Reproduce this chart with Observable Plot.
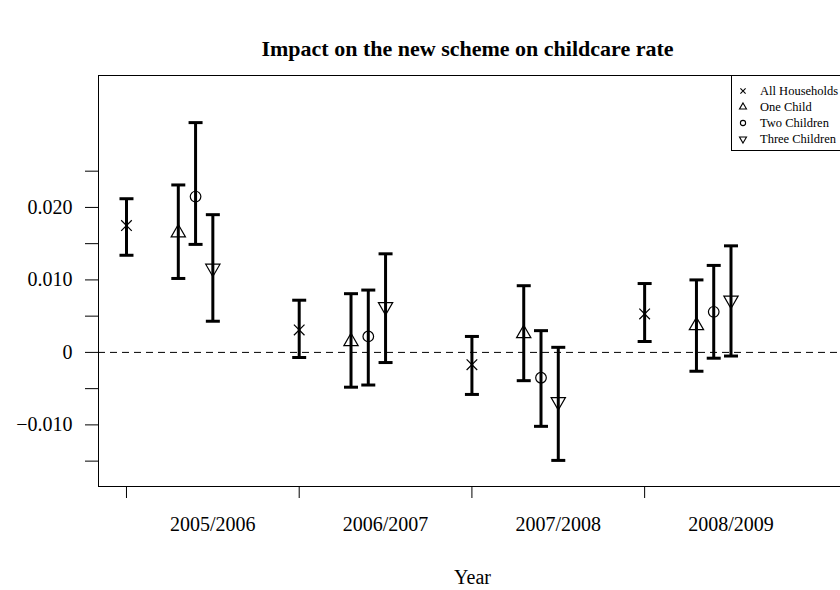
<!DOCTYPE html>
<html>
<head>
<meta charset="utf-8">
<script src="https://cdn.jsdelivr.net/npm/d3@7"></script>
<script src="https://cdn.jsdelivr.net/npm/@observablehq/plot@0.6"></script>
<style>
  body { margin: 0; background: #fff; }
  #wrap { position: relative; width: 840px; height: 590px; overflow: hidden; background: #fff;
          font-family: "Liberation Serif", "Times New Roman", serif; }
  #wrap svg { display: block; }
  #legend { position: absolute; left: 731px; top: 75px; width: 130px; height: 76px;
            border: 1px solid #000; background: #fff; box-sizing: border-box; }
  .lrow { position: absolute; left: 0; height: 16px; font-size: 12.5px; line-height: 16px; color: #000; white-space: nowrap; }
  .lrow svg { position: absolute; left: 5px; top: 2px; }
  .lrow span { position: absolute; left: 28px; top: 0; }
</style>
</head>
<body>
<div id="wrap"></div>
<script>
// ---------------- data ----------------
const years = ["2005/2006", "2006/2007", "2007/2008", "2008/2009"];
const seriesNames = ["All Households", "One Child", "Two Children", "Three Children"];

const allEst    = [0.0175, 0.0031, -0.0017, 0.0053];
const allLow    = [0.0134, -0.0007, -0.0058, 0.0015];
const allHigh   = [0.0212, 0.0072, 0.0022, 0.0095];

const oneEst    = [0.0165, 0.0015, 0.0026, 0.0037];
const oneLow    = [0.0102, -0.0048, -0.0039, -0.0026];
const oneHigh   = [0.0231, 0.0081, 0.0092, 0.0100];

const twoEst    = [0.0215, 0.0022, -0.0035, 0.0056];
const twoLow    = [0.0149, -0.0045, -0.0102, -0.0008];
const twoHigh   = [0.0317, 0.0086, 0.0030, 0.0120];

const threeEst  = [0.0116, 0.0063, -0.0068, 0.0072];
const threeLow  = [0.0043, -0.0014, -0.0149, -0.0005];
const threeHigh = [0.0190, 0.0136, 0.0007, 0.0147];

const yTicks      = [-0.015, -0.01, -0.005, 0, 0.005, 0.01, 0.015, 0.02, 0.025];
const yTickLabels = ["", "\u22120.010", "", "0", "", "0.010", "", "0.020", ""];
const xLabel = "Year";
const titleText = "Impact on the new scheme on childcare rate";

// ---------------- layout ----------------
const dodge = [0, 0.3, 0.4, 0.5];
const xDomain = [0.838, 5.134];
const yDomain = [-0.0185, 0.0382];
const seriesSets = [[allEst, allLow, allHigh], [oneEst, oneLow, oneHigh],
                    [twoEst, twoLow, twoHigh], [threeEst, threeLow, threeHigh]];
const rows = [];
seriesSets.forEach(([e, l, h], s) => years.forEach((yr, i) => rows.push({
  year: yr, series: seriesNames[s], s, x: i + 1 + dodge[s], est: e[i], lo: l[i], hi: h[i]
})));

// R-like symbols (pch 4, 2, 1, 6)
const rad = size => Math.sqrt(size / Math.PI);
const symCross = { draw(c, size) { const r = rad(size); c.moveTo(-r, -r); c.lineTo(r, r); c.moveTo(-r, r); c.lineTo(r, -r); } };
const symTriUp = { draw(c, size) { const r = rad(size); c.moveTo(0, -1.5551 * r); c.lineTo(1.3468 * r, 0.7776 * r); c.lineTo(-1.3468 * r, 0.7776 * r); c.closePath(); } };
const symCircle = { draw(c, size) { const r = rad(size); c.moveTo(r, 0); c.arc(0, 0, r, 0, 2 * Math.PI); } };
const symTriDown = { draw(c, size) { const r = rad(size); c.moveTo(0, 1.5551 * r); c.lineTo(1.3468 * r, -0.7776 * r); c.lineTo(-1.3468 * r, -0.7776 * r); c.closePath(); } };
const symCap = { draw(c, size) { const r = rad(size); c.moveTo(-r, 0); c.lineTo(r, 0); } };
const symbols = [symCross, symTriUp, symCircle, symTriDown];

const font = "Liberation Serif";
const labelTicks = years.map((_, i) => i + 1.5);
const yFmt = new Map(yTicks.map((v, i) => [v, yTickLabels[i]]));
const xFmt = new Map(labelTicks.map((v, i) => [v, years[i]]));

const chart = Plot.plot({
  width: 840,
  height: 590,
  marginLeft: 98,
  marginRight: 0,
  marginTop: 75,
  marginBottom: 104,
  style: { fontFamily: font, background: "#fff", color: "#000" },
  x: { type: "linear", domain: xDomain },
  y: { type: "linear", domain: yDomain },
  marks: [
    Plot.ruleY([0], { strokeDasharray: "7,5", strokeWidth: 1, stroke: "#000" }),
    Plot.ruleX(rows, { x: "x", y1: "lo", y2: "hi", strokeWidth: 3, stroke: "#000" }),
    Plot.dot(rows, { x: "x", y: "lo", symbol: symCap, r: 7, fill: "none", stroke: "#000", strokeWidth: 3 }),
    Plot.dot(rows, { x: "x", y: "hi", symbol: symCap, r: 7, fill: "none", stroke: "#000", strokeWidth: 3 }),
    ...seriesNames.map((name, s) => Plot.dot(rows.filter(d => d.s === s), {
      x: "x", y: "est", symbol: symbols[s], r: 5.3, fill: "none", stroke: "#000", strokeWidth: 1.2
    })),
    // box: left, top, bottom (right edge lies outside the picture)
    Plot.ruleY(yDomain, { stroke: "#000", strokeWidth: 1 }),
    Plot.ruleX([xDomain[0]], { stroke: "#000", strokeWidth: 1 }),
    Plot.axisY({ ticks: yTicks, tickSize: 13, tickPadding: 13, tickFormat: d => yFmt.get(d) ?? "",
                 label: null, fontSize: 20, fontFamily: font, stroke: "#000", fill: "#000" }),
    Plot.axisX({ ticks: years.map((_, i) => i + 1), tickSize: 12, tickFormat: () => "", label: null, stroke: "#000" }),
    Plot.axisX({ ticks: labelTicks, tickSize: 0, tickPadding: 30, tickFormat: d => xFmt.get(d) ?? "",
                 label: null, fontSize: 20, fontFamily: font, fill: "#000" }),
    Plot.text([titleText], { text: d => d, frameAnchor: "top", dy: -27, dx: -2, fontSize: 22, fontWeight: "bold",
                             fontFamily: font, lineAnchor: "middle", fill: "#000" }),
    Plot.text([xLabel], { text: d => d, frameAnchor: "bottom", dy: 91, dx: 3, fontSize: 20,
                          fontFamily: font, lineAnchor: "middle", fill: "#000" })
  ]
});

const wrap = document.getElementById("wrap");
wrap.appendChild(chart);

// legend
const legend = document.createElement("div");
legend.id = "legend";
seriesNames.forEach((name, s) => {
  const row = document.createElement("div");
  row.className = "lrow";
  row.style.top = (6.5 + s * 16.3) + "px";
  const p = d3.path();
  symbols[s].draw(p, Math.PI * 2.6 * 2.6);
  const svg = d3.create("svg").attr("width", 12).attr("height", 12).attr("viewBox", "-6 -6 12 12");
  svg.append("path").attr("d", p.toString()).attr("fill", "none").attr("stroke", "#000").attr("stroke-width", 1.1);
  row.appendChild(svg.node());
  const span = document.createElement("span");
  span.textContent = name;
  row.appendChild(span);
  legend.appendChild(row);
});
wrap.appendChild(legend);
</script>
</body>
</html>
